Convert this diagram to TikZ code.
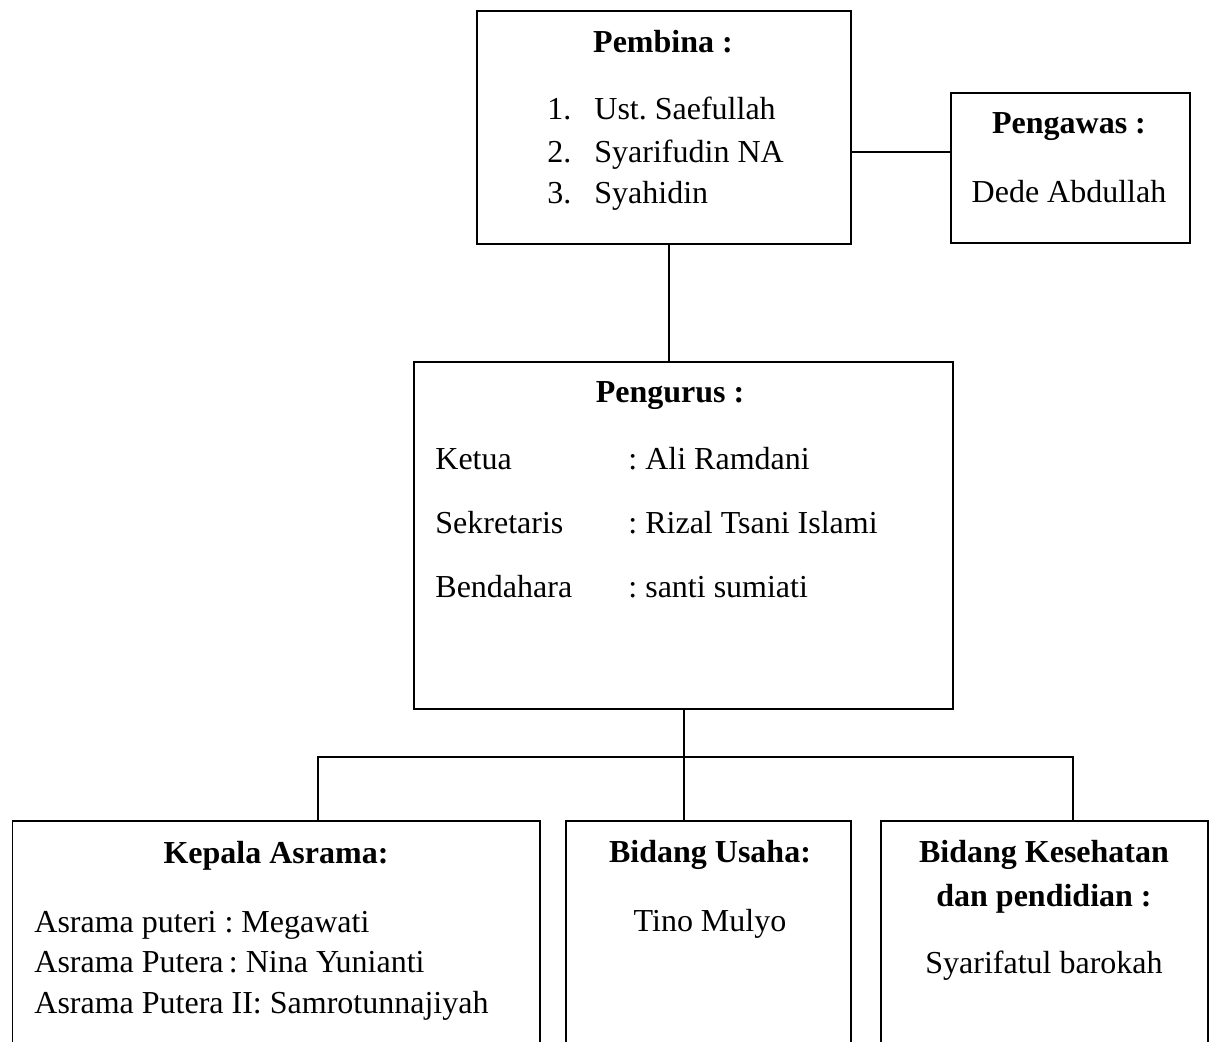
\documentclass[tikz,border=0pt]{standalone}
\usepackage{fontspec}
\setmainfont{Liberation Serif}
\usepackage{tikz}
\usetikzlibrary{shapes,arrows}
\frenchspacing

\begin{document}
\begin{tikzpicture}[x=0.5pt, y=-0.5pt, font=\fontsize{16}{21}\selectfont]
    % Define block styles
    \tikzstyle{box} = [rectangle, draw=black, line width=0.9pt, inner sep=0pt]
    \tikzstyle{head} = [anchor=base, font=\fontsize{16}{21}\selectfont\bfseries]
    \tikzstyle{txt} = [anchor=base west, inner sep=0pt]
    \tikzstyle{ctxt} = [anchor=base, inner sep=0pt]
    \tikzstyle{line} = [line width=0.9pt]

    \useasboundingbox (0,0) rectangle (1213,1041);

    % Draw boxes
    \node (pembina) [box, minimum width=187pt, minimum height=116.5pt] at (664,127.5) {};
    \node (pengawas) [box, minimum width=119.5pt, minimum height=75pt] at (1070.5,168) {};
    \node (pengurus) [box, minimum width=269.5pt, minimum height=173.5pt] at (683.5,535.5) {};
    \node (kepala) [box, minimum width=263.75pt, minimum height=129.5pt] at (276.25,950.5) {};
    \node (usaha) [box, minimum width=142.5pt, minimum height=129.5pt] at (708.5,950.5) {};
    \node (kesehatan) [box, minimum width=163.5pt, minimum height=129.5pt] at (1044.5,950.5) {};

    % Draw texts
    \node (pembinaT) [head] at (663,52) {Pembina :};
    \node (no1) [txt] at (547,119) {1.};
    \node (no2) [txt] at (547,162) {2.};
    \node (no3) [txt] at (547,203) {3.};
    \node (nama1) [txt] at (594,119) {Ust. Saefullah};
    \node (nama2) [txt] at (594,162) {Syarifudin NA};
    \node (nama3) [txt] at (594,203) {Syahidin};

    \node (pengawasT) [head] at (1069,133) {Pengawas :};
    \node (dede) [ctxt] at (1069,202) {Dede Abdullah};

    \node (pengurusT) [head] at (670,402) {Pengurus :};
    \node (ketua) [txt] at (435,469) {Ketua};
    \node (sekre) [txt] at (435,533) {Sekretaris};
    \node (benda) [txt] at (435,597) {Bendahara};
    \node (ketuaN) [txt] at (628,469) {: Ali Ramdani};
    \node (sekreN) [txt] at (628,533) {: Rizal Tsani Islami};
    \node (bendaN) [txt] at (628,597) {: santi sumiati};

    \node (kepalaT) [head] at (276,863) {Kepala Asrama:};
    \node (asrama1) [txt] at (34,932) {Asrama puteri : Megawati};
    \node (asrama2) [txt] at (34,972) {Asrama Putera\,: Nina Yunianti};
    \node (asrama3) [txt] at (34,1013) {Asrama Putera II: Samrotunnajiyah};

    \node (usahaT) [head] at (710,862) {Bidang Usaha:};
    \node (tino) [ctxt] at (710,931) {Tino Mulyo};

    \node (kesehatanT) [head] at (1044,862) {Bidang Kesehatan};
    \node (kesehatanT2) [head] at (1044,906) {dan pendidian :};
    \node (syarifatul) [ctxt] at (1044,973) {Syarifatul barokah};

    % Draw edges
    \coordinate (bar) at (684,757);
    \draw [line] ([yshift=-12.25pt]pembina.east) -- ([yshift=8pt]pengawas.west);
    \draw [line] ([xshift=2.5pt]pembina.south) -- ([xshift=2.5pt]pembina.south |- pengurus.north);
    \draw [line] ([xshift=0.25pt]pengurus.south) -- ([xshift=0.25pt]pengurus.south |- usaha.north);
    \draw [line] ([xshift=21pt]kepala.north) |- (bar) -| ([xshift=14.25pt]kesehatan.north);

\end{tikzpicture}
\end{document}
